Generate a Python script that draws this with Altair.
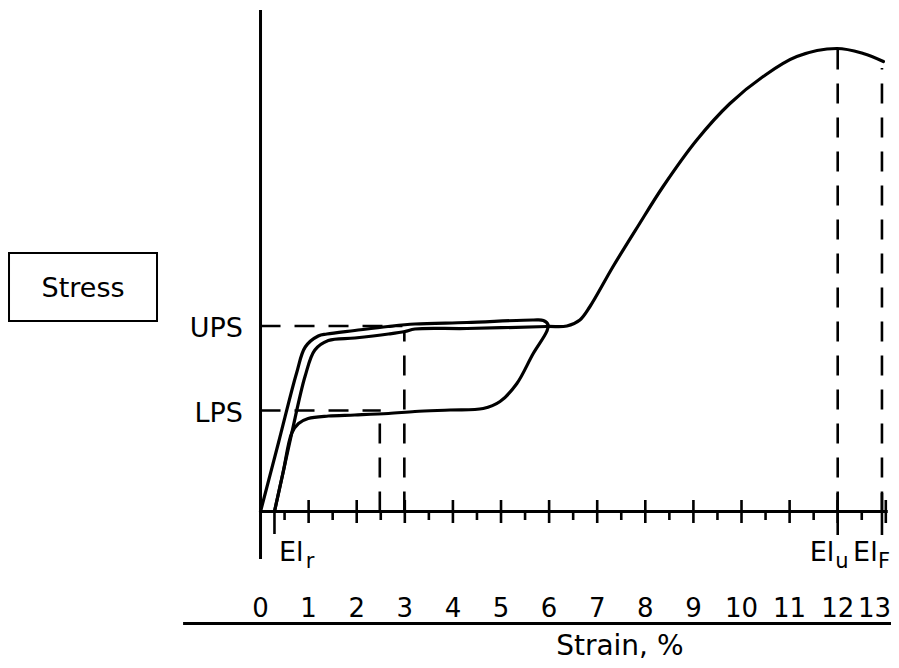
import altair as alt
import pandas as pd

# ---------------- data ----------------
# first loading + unloading loop (outer path)
loop_x = [0.0, 0.38, 0.75, 0.93, 1.20, 1.38, 1.96, 2.65, 3.21, 4.29, 5.67, 5.88, 5.98, 5.95,
          5.67, 5.33, 4.98, 4.63, 3.94, 3.21, 2.66, 1.96, 1.41, 0.99, 0.79, 0.65, 0.47, 0.29]
loop_y = [0.0, 14.0, 27.7, 32.9, 35.1, 35.5, 36.2, 37.0, 37.5, 37.8, 38.3, 38.2, 37.3, 36.0,
          31.6, 25.6, 22.0, 20.6, 20.3, 20.0, 19.6, 19.3, 19.1, 18.6, 17.6, 15.7, 7.85, 0.0]
# second loading from residual elongation up to fracture
load_x = [0.29, 0.47, 0.65, 0.925, 1.13, 1.41, 1.96, 2.66, 3.0, 3.21, 4.29, 5.95, 6.37, 6.64,
          6.85, 7.33, 7.85, 8.37, 9.07, 9.76, 10.45, 11.15, 11.98, 12.53, 12.95]
load_y = [0.0, 7.85, 15.7, 27.0, 32.3, 34.2, 34.7, 35.5, 36.0, 36.5, 36.6, 37.0, 37.1, 38.3,
          41.0, 49.0, 57.1, 65.0, 74.3, 81.6, 87.0, 91.0, 92.6, 91.6, 90.0]

UPS = 37.1
LPS = 20.2
EL_R = 0.29
EL_U = 12.0
EL_F = 12.92

tick_values = list(range(0, 13))
tick_labels = [str(v) for v in tick_values]
last_tick_label = "13"
major_ticks = list(range(1, 14))
minor_ticks = [v + 0.5 for v in range(0, 13)]

# ---------------- scales ----------------
X_MAX = 13.108
xs = alt.Scale(domain=[-5.25, X_MAX], nice=False, zero=False)
ys = alt.Scale(domain=[-29.7, 100.7], nice=False, zero=False)
FONT = "DejaVu Sans"


def X(f="x"):
    return alt.X(f"{f}:Q", scale=xs, axis=None)


def Y(f="y"):
    return alt.Y(f"{f}:Q", scale=ys, axis=None)


# ---------------- curves ----------------
rows = []
for i, (a, b) in enumerate(zip(loop_x, loop_y)):
    rows.append({"series": "loop", "i": i, "x": a, "y": b})
for i, (a, b) in enumerate(zip(load_x, load_y)):
    rows.append({"series": "load", "i": i, "x": a, "y": b})
curves = alt.Chart(pd.DataFrame(rows)).mark_line(
    color="black", strokeWidth=3.2, interpolate="catmull-rom", strokeCap="round"
).encode(x=X(), y=Y(), detail="series:N", order="i:Q")

# ---------------- dashed guide lines ----------------
dashed_df = pd.DataFrame([
    {"x": 0, "x2": 2.95, "y": UPS, "y2": UPS},
    {"x": 0, "x2": 2.5, "y": LPS, "y2": LPS},
    {"x": 2.48, "x2": 2.48, "y": 0, "y2": LPS - 0.3},
    {"x": 2.99, "x2": 2.99, "y": 0, "y2": 36.0},
    {"x": EL_U, "x2": EL_U, "y": 0, "y2": 92.6},
    {"x": EL_F, "x2": EL_F, "y": 0, "y2": 88.7},
])
dashed = alt.Chart(dashed_df).mark_rule(
    color="black", strokeWidth=2.6, strokeDash=[20, 14]
).encode(x=X(), x2="x2:Q", y=Y(), y2="y2:Q")

# ---------------- solid axes and ticks ----------------
solid_rows = [
    {"x": 0, "x2": 0, "y": -9.5, "y2": 100.3, "w": 3},          # stress axis
    {"x": 0, "x2": 13.04, "y": 0, "y2": 0, "w": 3},              # strain axis
    {"x": -1.61, "x2": X_MAX, "y": -22.4, "y2": -22.4, "w": 3},  # underline
    {"x": EL_R, "x2": EL_R, "y": -4.5, "y2": 0, "w": 2.6},
    {"x": EL_U, "x2": EL_U, "y": -4.7, "y2": 3.7, "w": 2.6},
    {"x": EL_F, "x2": EL_F, "y": -4.7, "y2": 3.7, "w": 2.6},
]
for v in major_ticks:
    solid_rows.append({"x": v, "x2": v, "y": -2.3, "y2": 2.3, "w": 2.6})
for v in minor_ticks:
    solid_rows.append({"x": v, "x2": v, "y": -1.7, "y2": 0, "w": 2.6})
solid = alt.Chart(pd.DataFrame(solid_rows)).mark_rule(color="black").encode(
    x=X(), x2="x2:Q", y=Y(), y2="y2:Q",
    strokeWidth=alt.StrokeWidth("w:Q", scale=None, legend=None),
)

# ---------------- stress box ----------------
box = alt.Chart(pd.DataFrame([{"x": -5.229, "x2": -2.152, "y": 38.1, "y2": 51.7}])).mark_rect(
    filled=False, stroke="black", strokeWidth=2
).encode(x=X(), x2="x2:Q", y=Y(), y2="y2:Q")

# ---------------- texts ----------------
tick_text = alt.Chart(pd.DataFrame({"x": tick_values, "y": [-21.1] * len(tick_values), "t": tick_labels})).mark_text(
    font=FONT, fontSize=26, align="center", baseline="alphabetic", color="black"
).encode(x=X(), y=Y(), text="t:N")

# the last label sits against the right edge of the picture
last_text = alt.Chart(pd.DataFrame({"x": [X_MAX], "y": [-21.1], "t": [last_tick_label]})).mark_text(
    font=FONT, fontSize=26, align="right", baseline="alphabetic", color="black"
).encode(x=X(), y=Y(), text="t:N")

ylab_text = alt.Chart(pd.DataFrame({"x": [-0.364, -0.364], "y": [34.96, 17.96], "t": ["UPS", "LPS"]})).mark_text(
    font=FONT, fontSize=27, align="right", baseline="alphabetic", color="black"
).encode(x=X(), y=Y(), text="t:N")

el_text = alt.Chart(pd.DataFrame({"x": [0.385, 11.42, 12.32], "y": [-9.9] * 3, "t": ["El", "El", "El"]})).mark_text(
    font=FONT, fontSize=27, align="left", baseline="alphabetic", color="black"
).encode(x=X(), y=Y(), text="t:N")

sub_text = alt.Chart(pd.DataFrame({"x": [0.94, 11.95, 12.84], "y": [-11.3] * 3, "t": ["r", "u", "F"]})).mark_text(
    font=FONT, fontSize=21, align="left", baseline="alphabetic", color="black"
).encode(x=X(), y=Y(), text="t:N")

stress_text = alt.Chart(pd.DataFrame({"x": [-3.69], "y": [42.96], "t": ["Stress"]})).mark_text(
    font=FONT, fontSize=27, align="center", baseline="alphabetic", color="black"
).encode(x=X(), y=Y(), text="t:N")

strain_text = alt.Chart(pd.DataFrame({"x": [7.47], "y": [-28.6], "t": ["Strain, %"]})).mark_text(
    font=FONT, fontSize=28, align="center", baseline="alphabetic", color="black"
).encode(x=X(), y=Y(), text="t:N")

chart = alt.layer(
    box, dashed, solid, curves, tick_text, last_text, ylab_text, el_text, sub_text,
    stress_text, strain_text
).properties(
    width=883, height=652, padding=0,
    autosize=alt.AutoSizeParams(type="none"),
    background="white",
).configure_view(stroke=None)

chart.save("out.html", embed_options={"renderer": "svg", "actions": False})
